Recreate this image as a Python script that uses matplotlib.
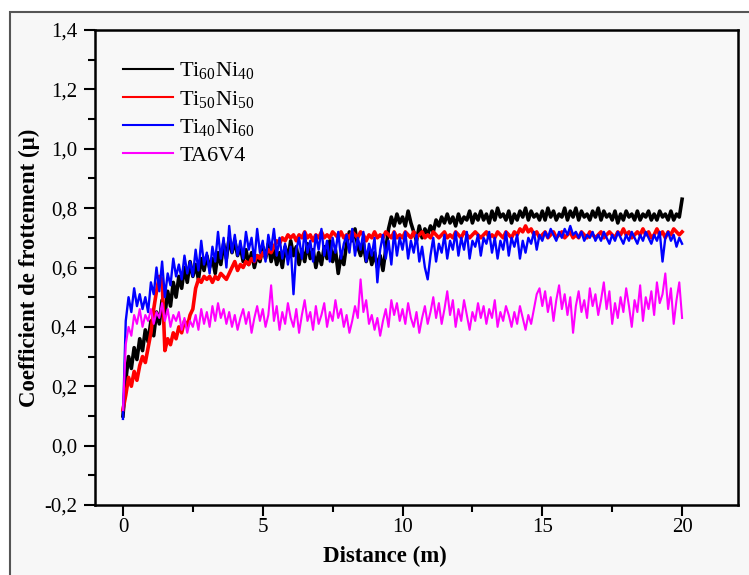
import numpy as np
import matplotlib
matplotlib.use("Agg")
import matplotlib.pyplot as plt
from matplotlib.patches import Rectangle
from matplotlib.ticker import MultipleLocator, FuncFormatter

plt.rcParams["font.family"] = ["Liberation Serif", "DejaVu Serif"]
plt.rcParams["mathtext.fontset"] = "custom"
plt.rcParams["mathtext.rm"] = "Liberation Serif"
plt.rcParams["mathtext.it"] = "Liberation Serif:italic"

# Friction coefficient, sampled every 0.1 m from 0 to 20 m
ti60ni40 = [
    0.10, 0.22, 0.30, 0.26, 0.33, 0.29, 0.36, 0.32, 0.39, 0.35,
    0.42, 0.37, 0.45, 0.41, 0.49, 0.44, 0.52, 0.47, 0.55, 0.50,
    0.57, 0.53, 0.60, 0.55, 0.62, 0.57, 0.61, 0.56, 0.63, 0.59,
    0.64, 0.60, 0.63, 0.58, 0.65, 0.61, 0.68, 0.63, 0.70, 0.65,
    0.69, 0.64, 0.67, 0.62, 0.66, 0.61, 0.65, 0.60, 0.64, 0.62,
    0.67, 0.63, 0.68, 0.62, 0.66, 0.61, 0.65, 0.60, 0.67, 0.63,
    0.69, 0.64, 0.67, 0.61, 0.66, 0.62, 0.68, 0.63, 0.66, 0.60,
    0.65, 0.61, 0.67, 0.63, 0.69, 0.62, 0.66, 0.58, 0.64, 0.61,
    0.68, 0.72, 0.69, 0.73, 0.67, 0.64, 0.68, 0.62, 0.66, 0.61,
    0.65, 0.60, 0.64, 0.59, 0.66, 0.73, 0.77, 0.74, 0.78, 0.75,
    0.77, 0.74, 0.79, 0.75, 0.72, 0.69, 0.74, 0.70, 0.73, 0.71,
    0.74, 0.72, 0.76, 0.74, 0.77, 0.75, 0.78, 0.75, 0.77, 0.74,
    0.78, 0.75, 0.77, 0.76, 0.79, 0.75, 0.78, 0.76, 0.79, 0.76,
    0.78, 0.75, 0.79, 0.76, 0.80, 0.77, 0.78, 0.76, 0.79, 0.75,
    0.78, 0.76, 0.79, 0.77, 0.80, 0.76, 0.79, 0.77, 0.78, 0.76,
    0.79, 0.76, 0.80, 0.77, 0.79, 0.76, 0.78, 0.77, 0.80, 0.76,
    0.79, 0.77, 0.80, 0.76, 0.79, 0.77, 0.78, 0.76, 0.79, 0.77,
    0.80, 0.76, 0.79, 0.77, 0.78, 0.76, 0.79, 0.75, 0.78, 0.76,
    0.79, 0.77, 0.78, 0.76, 0.79, 0.76, 0.78, 0.77, 0.79, 0.76,
    0.78, 0.76, 0.79, 0.77, 0.78, 0.76, 0.79, 0.76, 0.78, 0.77,
    0.83,
]

ti50ni50 = [
    0.12, 0.17, 0.23, 0.20, 0.25, 0.22, 0.27, 0.30, 0.28, 0.33,
    0.38, 0.46, 0.52, 0.57, 0.56, 0.32, 0.36, 0.34, 0.38, 0.36,
    0.40, 0.38, 0.42, 0.40, 0.44, 0.46, 0.53, 0.56, 0.55, 0.57,
    0.56, 0.57, 0.55, 0.57, 0.56, 0.58, 0.57, 0.56, 0.58, 0.60,
    0.62, 0.59, 0.61, 0.60, 0.62, 0.61, 0.63, 0.62, 0.64, 0.63,
    0.65, 0.64, 0.66, 0.65, 0.67, 0.69, 0.68, 0.70, 0.69, 0.71,
    0.70, 0.71, 0.69, 0.71, 0.70, 0.72, 0.70, 0.71, 0.69, 0.71,
    0.70, 0.72, 0.70, 0.71, 0.70, 0.72, 0.71, 0.70, 0.72, 0.70,
    0.71, 0.70, 0.72, 0.71, 0.70, 0.72, 0.71, 0.69, 0.71, 0.70,
    0.72, 0.70, 0.71, 0.70, 0.72, 0.71, 0.70, 0.72, 0.70, 0.71,
    0.70, 0.72, 0.71, 0.70, 0.72, 0.70, 0.71, 0.72, 0.70, 0.71,
    0.70, 0.72, 0.71, 0.70, 0.71, 0.72, 0.70, 0.71, 0.70, 0.72,
    0.71, 0.70, 0.72, 0.71, 0.70, 0.71, 0.72, 0.71, 0.70, 0.71,
    0.72, 0.70, 0.71, 0.70, 0.72, 0.71, 0.70, 0.72, 0.71, 0.70,
    0.72, 0.71, 0.73, 0.72, 0.74, 0.72, 0.73, 0.71, 0.72, 0.70,
    0.71, 0.72, 0.70, 0.71, 0.72, 0.70, 0.71, 0.72, 0.70, 0.71,
    0.72, 0.70, 0.71, 0.70, 0.72, 0.71, 0.70, 0.72, 0.71, 0.70,
    0.71, 0.72, 0.70, 0.71, 0.72, 0.71, 0.70, 0.72, 0.71, 0.73,
    0.71, 0.72, 0.70, 0.71, 0.72, 0.71, 0.73, 0.71, 0.72, 0.70,
    0.71, 0.73, 0.71, 0.72, 0.70, 0.72, 0.71, 0.73, 0.72, 0.71,
    0.72,
]

ti40ni60 = [
    0.09, 0.42, 0.50, 0.45, 0.53, 0.47, 0.51, 0.46, 0.50, 0.45,
    0.55, 0.51, 0.60, 0.52, 0.62, 0.50, 0.58, 0.54, 0.63, 0.57,
    0.61, 0.56, 0.64, 0.58, 0.62, 0.57, 0.66, 0.59, 0.69, 0.61,
    0.65, 0.58, 0.67, 0.62, 0.72, 0.63, 0.70, 0.60, 0.74, 0.65,
    0.71, 0.64, 0.69, 0.63, 0.72, 0.66, 0.70, 0.62, 0.73, 0.65,
    0.69, 0.62, 0.71, 0.66, 0.73, 0.64, 0.70, 0.63, 0.68, 0.61,
    0.67, 0.51, 0.66, 0.70, 0.63, 0.72, 0.65, 0.69, 0.62, 0.71,
    0.66, 0.73, 0.64, 0.69, 0.62, 0.70, 0.65, 0.72, 0.63, 0.68,
    0.71, 0.65, 0.73, 0.64, 0.70, 0.66, 0.72, 0.62, 0.68, 0.64,
    0.70, 0.55, 0.66, 0.71, 0.63, 0.69, 0.61, 0.72, 0.64, 0.70,
    0.66, 0.72, 0.63, 0.69, 0.65, 0.71, 0.62, 0.67, 0.60, 0.56,
    0.64, 0.70, 0.62, 0.68, 0.65, 0.71, 0.63, 0.69, 0.66, 0.72,
    0.64, 0.70, 0.66, 0.72, 0.63, 0.69, 0.67, 0.71, 0.64, 0.70,
    0.68, 0.72, 0.65, 0.70, 0.63, 0.69, 0.66, 0.72, 0.64, 0.70,
    0.67, 0.71, 0.63, 0.69, 0.65, 0.70, 0.68, 0.72, 0.66, 0.71,
    0.69, 0.72, 0.70, 0.73, 0.71, 0.69, 0.72, 0.70, 0.73, 0.71,
    0.74, 0.71, 0.72, 0.70, 0.72, 0.69, 0.71, 0.70, 0.72, 0.69,
    0.71, 0.69, 0.72, 0.70, 0.68, 0.71, 0.69, 0.72, 0.70, 0.68,
    0.71, 0.69, 0.72, 0.70, 0.68, 0.71, 0.69, 0.72, 0.70, 0.68,
    0.71, 0.69, 0.72, 0.62, 0.70, 0.72, 0.69, 0.71, 0.67, 0.70,
    0.68,
]

ta6v4 = [
    0.12, 0.34, 0.40, 0.37, 0.44, 0.41, 0.46, 0.40, 0.44, 0.42,
    0.46, 0.41, 0.45, 0.43, 0.48, 0.42, 0.46, 0.40, 0.44, 0.42,
    0.45, 0.39, 0.43, 0.38, 0.42, 0.40, 0.44, 0.39, 0.46, 0.41,
    0.45, 0.40, 0.47, 0.42, 0.48, 0.43, 0.46, 0.41, 0.45, 0.40,
    0.44, 0.39, 0.43, 0.46, 0.41, 0.45, 0.38, 0.43, 0.47, 0.42,
    0.46, 0.40, 0.44, 0.54, 0.42, 0.47, 0.39, 0.45, 0.41, 0.48,
    0.43, 0.40, 0.46, 0.38, 0.44, 0.49, 0.42, 0.45, 0.39, 0.47,
    0.41, 0.44, 0.48, 0.40, 0.45, 0.42, 0.49, 0.43, 0.46, 0.40,
    0.44, 0.38, 0.42, 0.47, 0.43, 0.56, 0.45, 0.49, 0.41, 0.44,
    0.39, 0.43, 0.37, 0.42, 0.46, 0.40, 0.49, 0.44, 0.48, 0.42,
    0.46, 0.41, 0.48, 0.43, 0.40, 0.45, 0.38, 0.43, 0.47, 0.41,
    0.45, 0.50, 0.43, 0.48, 0.41, 0.46, 0.52, 0.44, 0.49, 0.40,
    0.46, 0.42, 0.49, 0.44, 0.39, 0.45, 0.42, 0.48, 0.43, 0.47,
    0.41, 0.46, 0.43, 0.49, 0.40, 0.45, 0.42, 0.47, 0.44, 0.40,
    0.45, 0.41, 0.47, 0.43, 0.39, 0.44, 0.41, 0.46, 0.51, 0.53,
    0.47, 0.52, 0.45, 0.50, 0.42, 0.49, 0.54, 0.46, 0.51, 0.44,
    0.50, 0.38, 0.47, 0.52, 0.45, 0.49, 0.43, 0.53, 0.47, 0.51,
    0.44, 0.49, 0.55, 0.46, 0.52, 0.41, 0.48, 0.43, 0.50, 0.45,
    0.53, 0.47, 0.40, 0.49, 0.45, 0.54, 0.42, 0.50, 0.46, 0.52,
    0.44, 0.55, 0.48, 0.51, 0.58, 0.46, 0.53, 0.41, 0.49, 0.55,
    0.43,
]

series = [
    (ti60ni40, r"Ti$_{60}$Ni$_{40}$", "#000000", 2.6),
    (ti50ni50, r"Ti$_{50}$Ni$_{50}$", "#ff0000", 2.6),
    (ti40ni60, r"Ti$_{40}$Ni$_{60}$", "#0000ff", 1.7),
    (ta6v4, "TA6V4", "#ff00ff", 1.5),
]

W, H = 749, 575
fig = plt.figure(figsize=(W / 100, H / 100), dpi=100, facecolor="white")

# light panel with a grey border, cropped at right and bottom
fig.patches.append(Rectangle((10 / W, -0.05), 1.2, 1 - 12 / H + 0.05,
                             transform=fig.transFigure, facecolor="#f7f7f7",
                             edgecolor="#555555", linewidth=1.5, zorder=-5))

ax = fig.add_axes([95 / W, 1 - 505 / H, (738 - 95) / W, (505 - 30) / H])
ax.set_zorder(2)
ax.set_facecolor("#f8f8f8")

for values, label, color, lw in series:
    dist = np.linspace(0, 20, len(values))
    ax.plot(dist, values, color=color, lw=lw, label=label)

ax.set_xlim(-1, 22)
ax.set_ylim(-0.2, 1.4)
ax.xaxis.set_major_locator(MultipleLocator(5))
ax.xaxis.set_minor_locator(MultipleLocator(2.5))
ax.yaxis.set_major_locator(MultipleLocator(0.2))
ax.yaxis.set_minor_locator(MultipleLocator(0.1))
ax.yaxis.set_major_formatter(FuncFormatter(lambda v, p: f"{v:.1f}".replace(".", ",")))
ax.xaxis.set_major_formatter(FuncFormatter(lambda v, p: f"{v:g}"))

ax.tick_params(which="both", direction="out", top=False, right=False,
               width=1.5, labelsize=15, colors="black")
ax.tick_params(which="major", length=8)
ax.tick_params(which="minor", length=5)
ax.tick_params(axis="x", which="major", pad=1.5)
ax.tick_params(axis="y", which="major", pad=5)
for s in ax.spines.values():
    s.set_linewidth(1.8)

ax.set_xlabel("Distance (m)", fontsize=16.5, fontweight="bold")
ax.set_ylabel("Coefficient de frottement (µ)", fontsize=16.5, fontweight="bold")
ax.xaxis.set_label_coords(0.451, -0.086)
ax.yaxis.set_label_coords(-0.086, 0.5)

leg = ax.legend(loc="upper left", bbox_to_anchor=(0.012, 0.978), frameon=False,
                fontsize=16, handlelength=2.25, handletextpad=0.3, labelspacing=0.33)
for handle in leg.get_lines():
    handle.set_linewidth(1.5)

fig.savefig("out.png", dpi=100, facecolor=fig.get_facecolor())
